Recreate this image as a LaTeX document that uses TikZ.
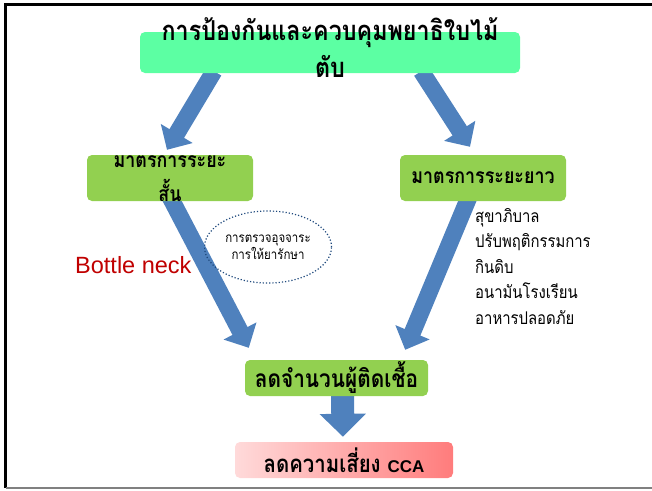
\documentclass[tikz,border=0pt]{standalone}
\usepackage{fontspec}
\setmainfont{Liberation Sans}
\newfontfamily\thai[Script=Thai,FakeStretch=0.85]{Loma}
\usetikzlibrary{arrows.meta,calc,positioning,shapes.geometric}
\definecolor{mint}{HTML}{5CFFA3}
\definecolor{leaf}{HTML}{92D050}
\definecolor{flow}{HTML}{4F81BD}
\definecolor{navy}{HTML}{1F497D}
\definecolor{neck}{HTML}{C00000}
\definecolor{pinkL}{HTML}{FFDADA}
\definecolor{pinkR}{HTML}{FF7C7C}
\pgfdeclarelayer{background}
\pgfsetlayers{background,main}

\begin{document}
\begin{tikzpicture}[x=1pt,y=-1pt,
  box/.style={rounded corners=5pt,inner sep=0pt},
  headtxt/.style={font=\thai\bfseries\fontsize{21}{34}\selectfont,align=center,inner sep=0pt},
  bigarrow/.style={flow,line width=17pt,-{Triangle[width=36pt,length=19pt]}}]
  \useasboundingbox (0,0) rectangle (652,490);
  \draw[line width=3pt] (660,4.5) -- (5.5,4.5) -- (5.5,488);
  \draw[line width=1.2pt,gray] (5.5,488) -- (660,488);
  % boxes
  \node[box,fill=mint,minimum width=380,minimum height=41] (top) at (330,52.5) {};
  \node[box,fill=leaf,minimum width=166,minimum height=46] (short) at (170,178) {};
  \node[box,fill=leaf,minimum width=166,minimum height=46] (long) at (483,178) {};
  \node[box,fill=leaf,minimum width=183,minimum height=36] (mid) at (336.5,378) {};
  \node[box,left color=pinkL,right color=pinkR,minimum width=218,minimum height=36] (cca) at (344,460) {};
  % texts
  \node[headtxt,font=\thai\bfseries\fontsize{27.4}{37}\selectfont] (toptxt) at ($(top)+(0,-5)$) {การป้องกันและควบคุมพยาธิใบไม้\\ตับ};
  \node[headtxt] (shorttxt) at ($(short)+(0,1)$) {มาตรการระยะ\\สั้น};
  \node[headtxt] (longtxt) at (long) {มาตรการระยะยาว};
  \node[headtxt,font=\thai\bfseries\fontsize{24.5}{30}\selectfont] (midtxt) at (mid) {ลดจำนวนผู้ติดเชื้อ};
  \node[headtxt,font=\thai\bfseries\fontsize{24}{30}\selectfont] (ccatxt) at (cca) {ลดความเสี่ยง {\normalfont\bfseries\fontsize{17}{20}\selectfont CCA}};
  \node[ellipse,draw=navy,dotted,line width=1.2pt,minimum width=127,minimum height=72,
        font=\thai\fontsize{13.5}{15}\selectfont,align=center,inner sep=0pt] (stool) at (268,247)
        {การตรวจอุจจาระ\\การให้ยารักษา};
  \node[neck,font=\fontsize{23.5}{28}\selectfont,anchor=base west,inner sep=0pt] (bottle) at (75,273) {Bottle neck};
  \node[font=\thai\fontsize{17.5}{25.5}\selectfont,align=left,anchor=north west,inner sep=0pt] (list) at (475,208)
        {สุขาภิบาล\\ปรับพฤติกรรมการ\\กินดิบ\\อนามันโรงเรียน\\อาหารปลอดภัย};
  % arrows
  \begin{pgfonlayer}{background}
    \draw[bigarrow] ($(top.south west)!0.195!(top.south east)+(0,-2)$) -- ($(short.north)+(-3,-5)$);
    \draw[bigarrow] ($(top.south west)!0.74!(top.south east)+(0,-2)$) -- ($(long.north)+(-13,-8)$);
    \draw[bigarrow] ($(short.south)+(-3,-10)$) -- ($(mid.north west)+(4,-12)$);
    \draw[bigarrow] ($(long.south)+(-12,-9)$) -- ($(mid.north east)+(-23,-10)$);
    \draw[flow,line width=23pt,-{Triangle[width=45pt,length=23pt]}] ($(mid.south)+(6,-5)$) -- ($(cca.north)+(-1,-5)$);
  \end{pgfonlayer}
\end{tikzpicture}
\end{document}
